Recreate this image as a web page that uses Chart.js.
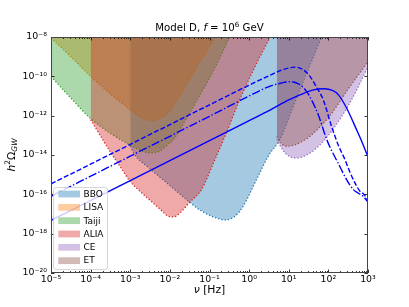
<!DOCTYPE html>
<html><head><meta charset="utf-8">
<script src="https://cdn.jsdelivr.net/npm/chart.js@4/dist/chart.umd.min.js"></script>
<style>html,body{margin:0;padding:0;background:#fff}#wrap{width:409px;height:307px;position:relative}canvas{display:block}</style>
</head><body><div id="wrap"><canvas id="c" width="409" height="307"></canvas></div>
<script>
// ---- axis ticks ----
const xTickValues = [1e-5, 1e-4, 1e-3, 1e-2, 1e-1, 1, 10, 100, 1000];
const xTickLabels = ['10⁻⁵','10⁻⁴','10⁻³','10⁻²','10⁻¹','10⁰','10¹','10²','10³'];
const yTickValues = [1e-20, 1e-18, 1e-16, 1e-14, 1e-12, 1e-10, 1e-8];
const yTickLabels = ['10⁻²⁰','10⁻¹⁸','10⁻¹⁶','10⁻¹⁴','10⁻¹²','10⁻¹⁰','10⁻⁸'];
const xMinorMultipliers = [2, 3, 4, 5, 6, 7, 8, 9];

// ---- detector sensitivity curves (frequency in Hz, h^2 Omega) ----
const bboFreq  = [1e-3, 1.26e-3, 3.16e-3, 1e-2, 3.16e-2, 6.31e-2, 0.126, 0.251, 0.447, 0.708, 1.58, 3.16, 6.03, 12.6, 25.1, 67.6];
const bboOmega = [2.82e-14, 1.12e-14, 2.0e-15, 2.82e-16, 3.98e-17, 1.41e-17, 7.08e-18, 5.01e-18, 7.94e-18, 2.51e-17, 6.31e-16, 1e-14, 6.31e-14, 2.51e-12, 7.94e-11, 1e-8];

const lisaFreq  = [1e-5, 3.16e-5, 1e-4, 3.16e-4, 1e-3, 1.78e-3, 3.55e-3, 6.31e-3, 1e-2, 1.58e-2, 2.51e-2, 3.98e-2, 6.31e-2, 0.1, 0.145];
const lisaOmega = [8.91e-9, 1e-9, 1e-10, 1.26e-11, 2.0e-12, 8.91e-13, 5.62e-13, 7.94e-13, 1.78e-12, 7.08e-12, 3.55e-11, 1.58e-10, 7.08e-10, 3.16e-9, 1e-8];

const taijiFreq  = [1e-5, 3.16e-5, 1e-4, 3.16e-4, 1e-3, 1.78e-3, 3.16e-3, 5.62e-3, 7.94e-3, 1.26e-2, 2.0e-2, 3.16e-2, 5.01e-2, 7.94e-2, 0.126, 0.2, 0.316];
const taijiOmega = [1e-10, 7.94e-12, 7.08e-13, 1.26e-13, 3.16e-14, 1.78e-14, 1.26e-14, 1.58e-14, 2.82e-14, 6.31e-14, 2.82e-13, 1.41e-12, 7.08e-12, 3.55e-11, 2.0e-10, 1.26e-9, 1e-8];

const aliaFreq  = [1e-4, 2.0e-4, 3.16e-4, 5.62e-4, 1e-3, 1.78e-3, 3.16e-3, 5.62e-3, 8.91e-3, 1.26e-2, 1.78e-2, 3.16e-2, 6.31e-2, 0.126, 0.251, 0.562, 1.41, 3.39];
const aliaOmega = [6.31e-13, 6.31e-14, 1.41e-14, 2.51e-15, 4.47e-16, 1.41e-16, 5.01e-17, 1.78e-17, 7.94e-18, 7.08e-18, 1.12e-17, 3.98e-17, 1.78e-16, 3.98e-15, 1e-13, 5.62e-12, 3.16e-10, 1e-8];

const ceFreq  = [5.01, 7.08, 10, 15.8, 28.2, 50.1, 100, 178, 316, 562, 1000];
const ceOmega = [6.31e-14, 1.78e-14, 8.91e-15, 7.08e-15, 1e-14, 2.24e-14, 1e-13, 5.01e-13, 3.16e-12, 2.82e-11, 3.16e-10];

const etFreq  = [5.01, 6.31, 8.91, 15.8, 31.6, 56.2, 100, 178, 316, 562, 1000];
const etOmega = [8.91e-14, 3.98e-14, 2.82e-14, 3.55e-14, 7.94e-14, 2.24e-13, 7.94e-13, 3.98e-12, 2.24e-11, 1.12e-10, 5.62e-10];

// ---- GW spectra (model curves) ----
const solidFreq  = [1e-5, 1e-3, 0.1, 1, 3.16, 10, 20, 39.8, 79.4, 126, 178, 288, 513, 708, 1000];
const solidOmega = [4.79e-18, 5.01e-16, 5.37e-14, 5.62e-13, 1.78e-12, 6.31e-12, 1.17e-11, 2.0e-11, 2.34e-11, 1.91e-11, 1.17e-11, 2.45e-12, 1.95e-13, 4.47e-14, 7.94e-15];

const dashedFreq  = [1e-5, 1e-3, 0.1, 1, 3.16, 6.31, 10, 14.1, 22.4, 34.3, 50.1, 74.1, 120, 178, 263, 355, 468, 631, 794, 1000];
const dashedOmega = [3.39e-16, 3.47e-14, 3.55e-12, 3.55e-11, 1.07e-10, 2.0e-10, 2.63e-10, 2.95e-10, 2.24e-10, 1e-10, 2.82e-11, 6.46e-12, 2.88e-13, 3.16e-14, 5.75e-15, 1.26e-15, 3.80e-16, 1.41e-16, 1e-16, 4.47e-17];

const dashDotFreq  = [1e-5, 1e-3, 0.1, 1, 3.16, 6.31, 11.2, 20, 28.2, 39.8, 55.6, 91.2, 126, 170, 288, 427, 562, 759, 1000];
const dashDotOmega = [7.94e-17, 8.71e-15, 9.33e-13, 1e-11, 3.02e-11, 4.47e-11, 5.37e-11, 3.55e-11, 1.70e-11, 5.01e-12, 1.12e-12, 6.03e-14, 1.41e-14, 4.47e-15, 5.62e-16, 1.74e-16, 1.17e-16, 7.94e-17, 3.98e-17];

const detectorNames = ['BBO', 'LISA', 'Taiji', 'ALIA', 'CE', 'ET'];
const detectorFreqs = [bboFreq, lisaFreq, taijiFreq, aliaFreq, ceFreq, etFreq];
const detectorOmegas = [bboOmega, lisaOmega, taijiOmega, aliaOmega, ceOmega, etOmega];
const detectorRGB = ['31,119,180', '255,127,14', '44,160,44', '214,39,40', '148,103,189', '140,86,75'];

const pts = (xs, ys) => xs.map((x, i) => ({x: x, y: ys[i]}));

const datasets = [];
detectorNames.forEach((name, i) => {
  datasets.push({
    label: name,
    isDetector: true,
    data: pts(detectorFreqs[i], detectorOmegas[i]),
    borderColor: 'rgb(' + detectorRGB[i] + ')',
    backgroundColor: 'rgba(' + detectorRGB[i] + ',0.4)',
    borderWidth: 1.3,
    borderDash: [1.3, 2.0],
    borderCapStyle: 'butt',
    fill: 'end',
    pointRadius: 0,
    cubicInterpolationMode: 'monotone',
    order: detectorNames.length - i
  });
});
const lineStyles = [
  {label: 'solid', f: solidFreq, o: solidOmega, dash: []},
  {label: 'dashed', f: dashedFreq, o: dashedOmega, dash: [5, 2.2]},
  {label: 'dashdot', f: dashDotFreq, o: dashDotOmega, dash: [8.5, 2.1, 1.4, 2.1]}
];
lineStyles.forEach(s => {
  datasets.push({
    label: s.label,
    isDetector: false,
    data: pts(s.f, s.o),
    borderColor: '#0000ff',
    backgroundColor: '#0000ff',
    borderWidth: 1.4,
    borderDash: s.dash,
    borderCapStyle: 'butt',
    fill: false,
    pointRadius: 0,
    cubicInterpolationMode: 'monotone',
    order: 0
  });
});

const FONT = 'DejaVu Sans';

function drawRich(ctx, segs, x, y, align) {
  let total = 0;
  segs.forEach(s => {
    ctx.font = (s.italic ? 'italic ' : '') + s.size + 'px "' + FONT + '"';
    s.w = ctx.measureText(s.t).width;
    total += s.w + (s.gap || 0);
  });
  let cx = align === 'center' ? x - total / 2 : x;
  segs.forEach(s => {
    ctx.font = (s.italic ? 'italic ' : '') + s.size + 'px "' + FONT + '"';
    ctx.fillText(s.t, cx, y + (s.dy || 0));
    cx += s.w + (s.gap || 0);
  });
}

const decorPlugin = {
  id: 'decor',
  afterDatasetsDraw(chart) {
    const ctx = chart.ctx;
    const a = chart.chartArea;
    const xs = chart.scales.x, ys = chart.scales.y;
    ctx.save();
    // ticks (inward, all four sides)
    ctx.strokeStyle = '#000';
    ctx.lineWidth = 0.8;
    ctx.beginPath();
    xTickValues.forEach((v, k) => {
      const px = Math.round(xs.getPixelForValue(v)) + 0.5;
      ctx.moveTo(px, a.bottom); ctx.lineTo(px, a.bottom - 3.5);
      ctx.moveTo(px, a.top); ctx.lineTo(px, a.top + 3.5);
      if (k < xTickValues.length - 1) {
        xMinorMultipliers.forEach(m => {
          const mp = Math.round(xs.getPixelForValue(v * m)) + 0.5;
          ctx.moveTo(mp, a.bottom); ctx.lineTo(mp, a.bottom - 2);
          ctx.moveTo(mp, a.top); ctx.lineTo(mp, a.top + 2);
        });
      }
    });
    yTickValues.forEach(v => {
      const py = Math.round(ys.getPixelForValue(v)) + 0.5;
      ctx.moveTo(a.left, py); ctx.lineTo(a.left + 3.5, py);
      ctx.moveTo(a.right, py); ctx.lineTo(a.right - 3.5, py);
    });
    ctx.stroke();
    // frame
    ctx.strokeStyle = '#444';
    ctx.lineWidth = 1;
    ctx.strokeRect(a.left + 0.5, a.top + 0.5, a.right - a.left - 1, a.bottom - a.top - 1);

    // legend inside axes
    const dets = chart.data.datasets.filter(d => d.isDetector);
    const bx = 53.5, by = 187.5, bw = 54, bh = 82, r = 2.5;
    ctx.beginPath();
    ctx.moveTo(bx + r, by);
    ctx.lineTo(bx + bw - r, by); ctx.quadraticCurveTo(bx + bw, by, bx + bw, by + r);
    ctx.lineTo(bx + bw, by + bh - r); ctx.quadraticCurveTo(bx + bw, by + bh, bx + bw - r, by + bh);
    ctx.lineTo(bx + r, by + bh); ctx.quadraticCurveTo(bx, by + bh, bx, by + bh - r);
    ctx.lineTo(bx, by + r); ctx.quadraticCurveTo(bx, by, bx + r, by);
    ctx.closePath();
    ctx.fillStyle = 'rgba(255,255,255,0.8)';
    ctx.fill();
    ctx.strokeStyle = '#cccccc';
    ctx.lineWidth = 0.8;
    ctx.stroke();
    ctx.textBaseline = 'middle';
    ctx.textAlign = 'left';
    dets.forEach((d, i) => {
      const cy = 194 + i * 13.33;
      ctx.fillStyle = d.backgroundColor;
      ctx.fillRect(58.3, cy - 3.4, 21.7, 6.8);
      ctx.fillStyle = '#000';
      ctx.font = '9px "' + FONT + '"';
      ctx.fillText(d.label, 83.5, cy + 0.5);
    });

    // title
    ctx.fillStyle = '#000';
    ctx.textBaseline = 'alphabetic';
    ctx.textAlign = 'left';
    const cxm = (a.left + a.right) / 2;
    drawRich(ctx, [
      {t: 'Model D, ', size: 10.2},
      {t: 'f', size: 10.2, italic: true, gap: 3},
      {t: '= ', size: 10.2},
      {t: '10', size: 10.2},
      {t: '6', size: 7.2, dy: -4},
      {t: ' GeV', size: 10.2}
    ], cxm, 31, 'center');
    // x label
    drawRich(ctx, [
      {t: 'ν', size: 10.8, italic: true},
      {t: ' [Hz]', size: 10.8}
    ], cxm, 292.5, 'center');
    // y label (rotated)
    ctx.translate(14.5, (a.top + a.bottom) / 2);
    ctx.rotate(-Math.PI / 2);
    drawRich(ctx, [
      {t: 'h', size: 10.8, italic: true},
      {t: '2', size: 7.5, dy: -4.5},
      {t: 'Ω', size: 10.8},
      {t: 'GW', size: 7.5, italic: true, dy: 2.5}
    ], 0, 0, 'center');
    ctx.restore();
  }
};

new Chart(document.getElementById('c'), {
  type: 'line',
  data: {datasets: datasets},
  plugins: [decorPlugin],
  options: {
    responsive: false,
    animation: false,
    devicePixelRatio: 1,
    events: [],
    layout: {padding: {top: 37, right: 41, left: 0, bottom: 0}},
    plugins: {legend: {display: false}, tooltip: {enabled: false}, title: {display: false}},
    scales: {
      x: {
        type: 'logarithmic', min: 1e-5, max: 1e3,
        grid: {display: false, drawTicks: false}, border: {display: false},
        afterBuildTicks: s => { s.ticks = xTickValues.map(v => ({value: v})); },
        afterFit: s => { s.height = 34; },
        ticks: {autoSkip: false, maxRotation: 0, padding: 1, color: '#000',
          font: {family: FONT, size: 9.4},
          callback: (v, i) => xTickLabels[i]}
      },
      y: {
        type: 'logarithmic', min: 1e-20, max: 1e-8,
        grid: {display: false, drawTicks: false}, border: {display: false},
        afterBuildTicks: s => { s.ticks = yTickValues.map(v => ({value: v})); },
        afterFit: s => { s.width = 51; },
        ticks: {autoSkip: false, padding: 4, color: '#000',
          font: {family: FONT, size: 9.4},
          callback: (v, i) => yTickLabels[i]}
      }
    }
  }
});
</script></body></html>
